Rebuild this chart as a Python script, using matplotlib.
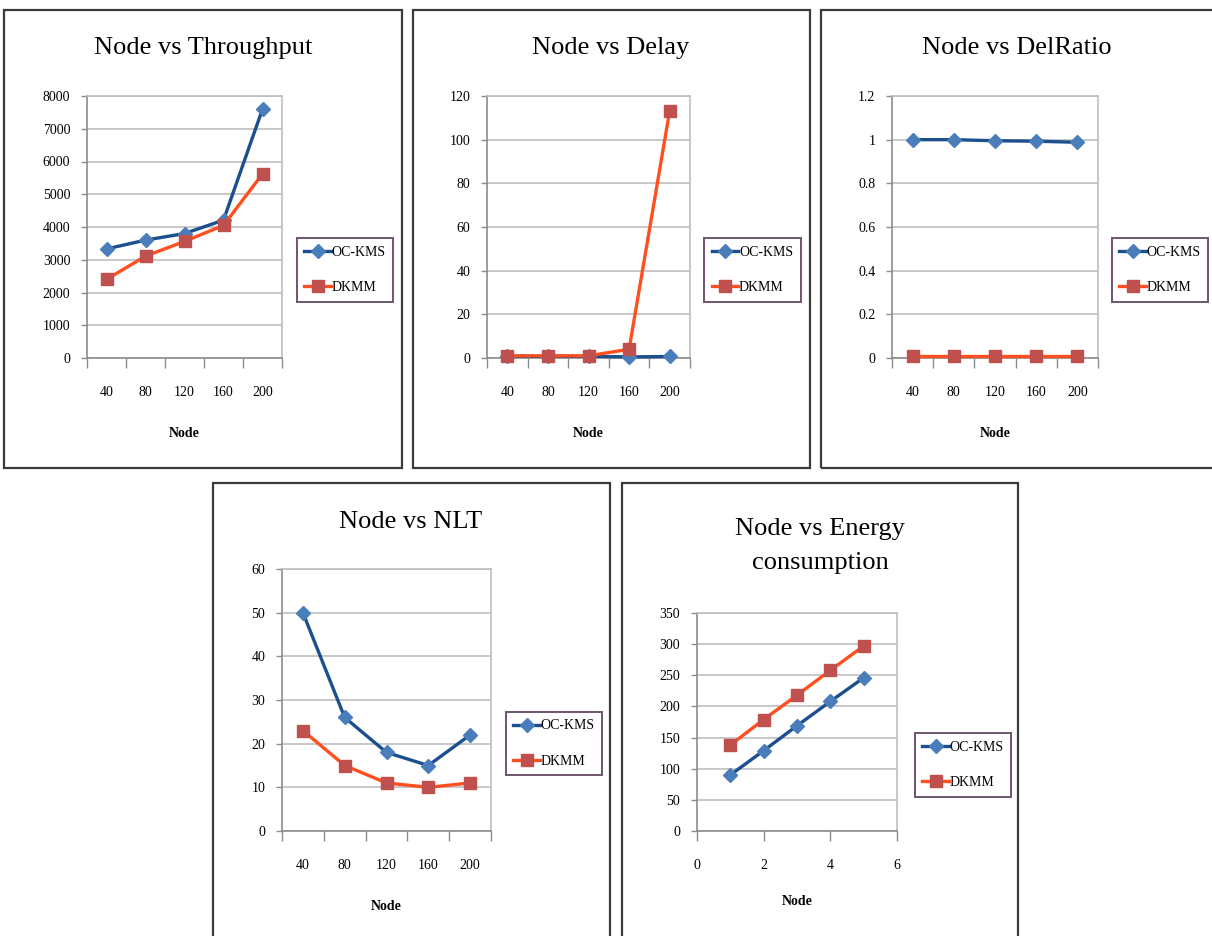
import matplotlib
matplotlib.use("Agg")
import matplotlib.pyplot as plt
from matplotlib.patches import Rectangle
from matplotlib.lines import Line2D

W, H = 1212, 936
plt.rcParams['font.family'] = ['Liberation Serif', 'DejaVu Serif']

nodes = ["40", "80", "120", "160", "200"]
series_names = ["OC-KMS", "DKMM"]

thr_ockms = [3330, 3600, 3800, 4210, 7600]
thr_dkmm = [2400, 3110, 3560, 4050, 5620]

delay_ockms = [0.8, 0.8, 0.8, 0.5, 0.7]
delay_dkmm = [1.0, 1.0, 1.0, 4.0, 113.3]

dr_ockms = [1.0, 1.0, 0.995, 0.993, 0.988]
dr_dkmm = [0.01, 0.01, 0.01, 0.01, 0.01]

nlt_ockms = [50, 26, 18, 15, 22]
nlt_dkmm = [23, 15, 11, 10, 11]

energy_x = [1, 2, 3, 4, 5]
energy_ockms = [90, 129, 169, 208, 246]
energy_dkmm = [138, 179, 218, 258, 297]

BLUE_LINE = "#1B4F8E"
BLUE_MARK = "#4A7EBB"
ORANGE_LINE = "#FF4F1F"
RED_MARK = "#C0504D"
GRID = "#BFBFBF"
AXC = "#8C8C8C"

fig = plt.figure(figsize=(W / 100, H / 100), dpi=100)


def fx(px):
    return px / W


def fy(py):
    return 1 - py / H


def frame(x0, y0, x1, y1):
    fig.patches.append(Rectangle((fx(x0), fy(y1)), fx(x1 - x0), (y1 - y0) / H,
                                 transform=fig.transFigure, fill=False,
                                 edgecolor="#3A3A3A", linewidth=1.6))


def panel(box, ptitle, ylabel, yvals1, yvals2, ymax, ystep, yfmt, legbox,
          title_y, numeric_x=None, ylabel_x=None, linespacing=1.2):
    x0, y0, x1, y1 = box
    ax = fig.add_axes([fx(x0), fy(y1), fx(x1 - x0), (y1 - y0) / H])
    if numeric_x is None:
        xs = list(range(len(nodes)))
        ax.set_xlim(-0.5, len(nodes) - 0.5)
        ax.set_xticks([i - 0.5 for i in range(len(nodes) + 1)])
        ax.set_xticklabels([])
        ax.set_xticks(xs, minor=True)
        ax.set_xticklabels(nodes, minor=True)
        ax.tick_params(axis='x', which='minor', length=0, pad=20, labelsize=10)
        ax.tick_params(axis='x', which='major', length=7, width=1, color=AXC,
                       direction='out')
        lp = 20
    else:
        xs = numeric_x
        ax.set_xlim(0, 6)
        ax.set_xticks([0, 2, 4, 6])
        ax.tick_params(axis='x', length=7, width=1, color=AXC, direction='out',
                       pad=13, labelsize=10)
        lp = 17
    ax.plot(xs, yvals1, color=BLUE_LINE, lw=2.4, marker='D', ms=7,
            mfc=BLUE_MARK, mec=BLUE_MARK, zorder=3, clip_on=False)
    ax.plot(xs, yvals2, color=ORANGE_LINE, lw=2.4, marker='s', ms=8,
            mfc=RED_MARK, mec=RED_MARK, zorder=3, clip_on=False)
    ax.set_ylim(0, ymax)
    n = int(round(ymax / ystep))
    yt = [i * ystep for i in range(n + 1)]
    ax.set_yticks(yt)
    ax.set_yticklabels([yfmt(v) for v in yt])
    ax.tick_params(axis='y', length=4, width=1, color=AXC, direction='out',
                   pad=8, labelsize=10)
    ax.yaxis.grid(True, color=GRID, lw=1.2)
    ax.set_axisbelow(True)
    for s in ax.spines.values():
        s.set_color(GRID)
        s.set_linewidth(1.2)
    ax.spines['left'].set_color(AXC)
    ax.spines['bottom'].set_color(AXC)
    ax.set_xlabel("Node", fontweight='bold', fontsize=10, labelpad=lp)
    ax.set_ylabel(ylabel, fontweight='bold', fontsize=10.5)
    if ylabel_x is not None:
        ax.yaxis.label.set_transform(fig.transFigure)
        ax.yaxis.label.set_position((fx(ylabel_x), fy((y0 + y1) / 2)))
    # title
    fig.text(fx(ptitle[1]), fy(title_y), ptitle[0], ha='center', va='center',
             fontsize=19, linespacing=linespacing)
    # legend
    lx0, ly0, lx1, ly1 = legbox
    handles = [Line2D([], [], color=BLUE_LINE, lw=2.4, marker='D', ms=7,
                      mfc=BLUE_MARK, mec=BLUE_MARK),
               Line2D([], [], color=ORANGE_LINE, lw=2.4, marker='s', ms=8,
                      mfc=RED_MARK, mec=RED_MARK)]
    leg = fig.legend(handles, series_names, loc='center',
                     bbox_to_anchor=(fx((lx0 + lx1) / 2), fy((ly0 + ly1) / 2)),
                     bbox_transform=fig.transFigure, fontsize=10,
                     frameon=True, fancybox=False, edgecolor="#4B2A4B",
                     handlelength=1.9, handletextpad=0.05, labelspacing=1.6,
                     borderpad=0.55, borderaxespad=0)
    leg.get_frame().set_linewidth(1.4)
    return ax


def fmt_int(v):
    return "%d" % round(v)


def fmt_dr(v):
    s = "%.1f" % v
    if s.endswith(".0"):
        s = s[:-2]
    return s


# frames
frame(4, 10, 402, 468)
frame(413, 10, 810, 468)
frame(821, 10, 1216, 468)
frame(213, 483, 610, 940)
frame(622, 483, 1018, 940)

panel((87, 96, 282, 358), ("Node vs Throughput", 203), "Throughput",
      thr_ockms, thr_dkmm, 8000, 1000, fmt_int, (298, 234, 392, 306), 48,
      ylabel_x=35)
panel((487, 96, 690, 358), ("Node vs Delay", 611), "Delay",
      delay_ockms, delay_dkmm, 120, 20, fmt_int, (706, 234, 799, 306), 48,
      ylabel_x=443)
panel((892, 96, 1098, 358), ("Node vs DelRatio", 1017), "DelRatio",
      dr_ockms, dr_dkmm, 1.2, 0.2, fmt_dr, (1113, 234, 1207, 306), 48,
      ylabel_x=851)
panel((282, 569, 491, 831), ("Node vs NLT", 411), "NLT",
      nlt_ockms, nlt_dkmm, 60, 10, fmt_int, (507, 708, 601, 779), 522,
      ylabel_x=243)
panel((697, 613, 897, 831), ("Node vs Energy\nconsumption", 820),
      "Energy consumption", energy_ockms, energy_dkmm, 350, 50, fmt_int,
      (916, 728, 1010, 802), 546, numeric_x=energy_x, ylabel_x=653,
      linespacing=1.7)

fig.savefig("out.png", dpi=100)
